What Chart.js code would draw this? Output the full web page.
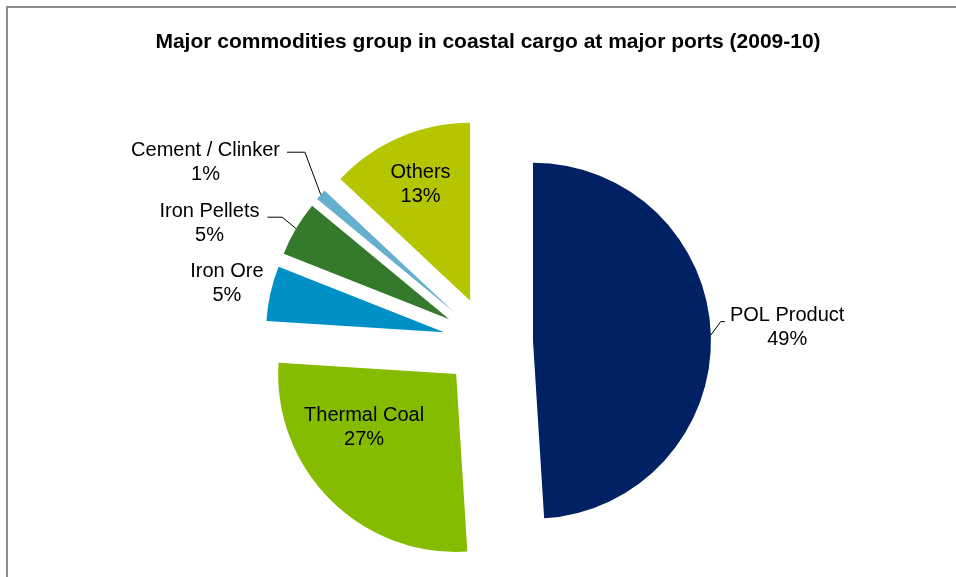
<!DOCTYPE html>
<html>
<head>
<meta charset="utf-8">
<title>Coastal cargo commodities</title>
<script src="https://cdn.jsdelivr.net/npm/chart.js@4.4.0/dist/chart.umd.min.js"></script>
<style>
  html, body { margin: 0; padding: 0; background: #fff; overflow: hidden; }
  #wrap { position: relative; width: 956px; height: 577px; }
  #frame {
    position: absolute; left: 6px; top: 6px; width: 1000px; height: 700px;
    border-left: 2px solid #8c8c8c; border-top: 2px solid #8c8c8c;
    pointer-events: none;
  }
</style>
</head>
<body>
<div id="wrap">
  <canvas id="cargoChart" width="956" height="577"></canvas>
  <div id="frame"></div>
</div>
<script>
const chartTitle = 'Major commodities group in coastal cargo at major ports (2009-10)';
const categories = ['POL Product', 'Thermal Coal', 'Iron Ore', 'Iron Pellets', 'Cement / Clinker', 'Others'];
const shares = [49, 27, 5, 5, 1, 13];

const sliceColors = ['#012165', '#86bc00', '#0090c8', '#35792d', '#65afcf', '#b5c500'];
const FONT = '"Liberation Sans", Arial, sans-serif';
const EXPLODE = 45; // how far every slice is pulled away from the centre, px

// where each label sits: distance from the slice tip (in radii) and turn off the mid-angle (deg)
const labelPlacement = [
    { dist: 1.43, turn: -1.2, leader: { dist: 1.06, turn: -4.0, side: 'right', gap: 5 } },
    { dist: 0.60, turn: 14.6 },
    { dist: 1.25, turn: 0 },
    { dist: 1.45, turn: -8.9, leader: { dist: 1.10, turn: 0.8, side: 'left', gap: 8 } },
    { dist: 1.63, turn: -10.4, leader: { dist: 1.23, turn: 5.6, side: 'left', gap: 7 } },
    { dist: 0.71, turn: 0.3 }
];

// Chart.js' own arc offset also grows the radius, so the slices are
// pulled out here instead: each arc is drawn with its own translation
const explodeSlices = {
    id: 'explodeSlices',
    beforeDatasetDraw(chart, args) {
        const ctx = chart.ctx;
        args.meta.data.forEach(arc => {
            const mid = (arc.startAngle + arc.endAngle) / 2;
            ctx.save();
            ctx.translate(Math.cos(mid) * EXPLODE, Math.sin(mid) * EXPLODE);
            arc.draw(ctx, chart.chartArea);
            ctx.restore();
        });
        return false;
    }
};

const sliceLabels = {
    id: 'sliceLabels',
    afterDatasetsDraw(chart) {
        const ctx = chart.ctx;
        const meta = chart.getDatasetMeta(0);
        ctx.save();
        ctx.font = '20px ' + FONT;
        ctx.fillStyle = '#000';
        ctx.strokeStyle = '#000';
        ctx.lineWidth = 1;
        ctx.textAlign = 'center';
        ctx.textBaseline = 'middle';

        meta.data.forEach((arc, i) => {
            const p = arc.getProps(['x', 'y', 'startAngle', 'endAngle', 'outerRadius'], true);
            const mid = (p.startAngle + p.endAngle) / 2;
            const tipX = p.x + Math.cos(mid) * EXPLODE;
            const tipY = p.y + Math.sin(mid) * EXPLODE;
            const r = p.outerRadius;
            const place = labelPlacement[i];

            const a = mid + place.turn * Math.PI / 180;
            const cx = tipX + Math.cos(a) * r * place.dist;
            const cy = tipY + Math.sin(a) * r * place.dist;
            const lines = [categories[i], shares[i] + '%'];
            const lh = 24;
            lines.forEach((t, k) => {
                ctx.fillText(t, cx, cy + (k - (lines.length - 1) / 2) * lh);
            });

            if (place.leader) {
                const ld = place.leader;
                const w = Math.max(...lines.map(t => ctx.measureText(t).width));
                const sx = tipX + Math.cos(mid) * r;
                const sy = tipY + Math.sin(mid) * r;
                const b = mid + ld.turn * Math.PI / 180;
                const ex = tipX + Math.cos(b) * r * ld.dist;
                const ey = tipY + Math.sin(b) * r * ld.dist;
                const endX = ld.side === 'left' ? cx + w / 2 + ld.gap : cx - w / 2 - ld.gap;
                ctx.beginPath();
                ctx.moveTo(sx, sy);
                ctx.lineTo(ex, ey);
                ctx.lineTo(endX, ey);
                ctx.stroke();
            }
        });
        ctx.restore();
    }
};

new Chart(document.getElementById('cargoChart'), {
    type: 'pie',
    data: {
        labels: categories,
        datasets: [{
            data: shares,
            backgroundColor: sliceColors,
            borderWidth: 0,
            clip: false
        }]
    },
    options: {
        responsive: false,
        animation: false,
        events: [],
        radius: 178,
        layout: { padding: { left: 20, top: 7, right: 0, bottom: 0 } },
        plugins: {
            legend: { display: false },
            tooltip: { enabled: false },
            title: {
                display: true,
                text: chartTitle,
                color: '#000',
                font: { family: FONT, size: 21, weight: 'bold' },
                padding: { top: 23, bottom: 52 }
            }
        }
    },
    plugins: [explodeSlices, sliceLabels]
});
</script>
</body>
</html>
